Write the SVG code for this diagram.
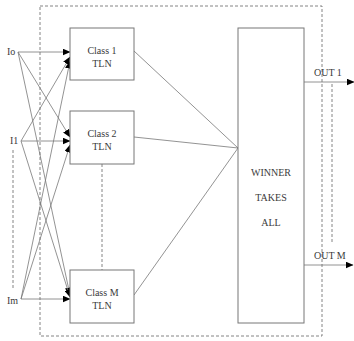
<svg xmlns="http://www.w3.org/2000/svg" width="354" height="341" viewBox="0 0 354 341">
<defs>
<marker id="ah" markerWidth="8" markerHeight="7" refX="7.5" refY="3.5" orient="auto" markerUnits="userSpaceOnUse">
<path d="M0,0 L8,3.5 L0,7 Z" fill="#000"/>
</marker>
</defs>
<style>
.box{fill:#fff;stroke:#777;stroke-width:1}
.ln{stroke:#777;stroke-width:0.8;fill:none}
.dash{stroke:#666;stroke-width:0.8;stroke-dasharray:3,2;fill:none}
.t{font-family:"Liberation Serif",serif;font-size:10px;fill:#3a3a3a;text-anchor:middle}
.lbl{font-family:"Liberation Serif",serif;font-size:10px;fill:#3a3a3a}
</style>
<rect width="354" height="341" fill="#fff"/>
<g id="frame">
<rect x="40" y="6" width="282" height="330" class="dash"/>
<line x1="13" y1="150" x2="13" y2="290" class="dash"/>
<line x1="102" y1="164" x2="102" y2="270" class="dash"/>
<line x1="332" y1="84" x2="332" y2="243" class="dash"/>
</g>
<g id="connectors">
<line x1="18" y1="52" x2="70" y2="52" class="ln" marker-end="url(#ah)"/>
<line x1="18" y1="52" x2="70" y2="137" class="ln" marker-end="url(#ah)"/>
<line x1="18" y1="52" x2="70" y2="295" class="ln" marker-end="url(#ah)"/>
<line x1="21" y1="141" x2="70" y2="57" class="ln" marker-end="url(#ah)"/>
<line x1="21" y1="141" x2="70" y2="141" class="ln" marker-end="url(#ah)"/>
<line x1="21" y1="141" x2="70" y2="297" class="ln" marker-end="url(#ah)"/>
<line x1="21" y1="299" x2="70" y2="61" class="ln" marker-end="url(#ah)"/>
<line x1="21" y1="299" x2="70" y2="145" class="ln" marker-end="url(#ah)"/>
<line x1="21" y1="299" x2="70" y2="299" class="ln" marker-end="url(#ah)"/>
<line x1="134" y1="51" x2="238" y2="148" class="ln"/>
<line x1="134" y1="137" x2="238" y2="148" class="ln"/>
<line x1="134" y1="295" x2="238" y2="148" class="ln"/>
<line x1="304" y1="82" x2="354" y2="82" class="ln" marker-end="url(#ah)"/>
<line x1="304" y1="265" x2="353" y2="265" class="ln" marker-end="url(#ah)"/>
</g>
<g id="inputs">
<text x="7" y="55" class="lbl">Io</text>
<text x="10" y="144" class="lbl">I1</text>
<text x="7" y="304" class="lbl">Im</text>
</g>
<g id="class1">
<rect x="70" y="28" width="64" height="52" class="box"/>
<text x="102" y="54" class="t">Class 1</text>
<text x="102" y="67" class="t">TLN</text>
</g>
<g id="class2">
<rect x="70" y="111" width="64" height="53" class="box"/>
<text x="102" y="137" class="t">Class 2</text>
<text x="102" y="150" class="t">TLN</text>
</g>
<g id="classM">
<rect x="70" y="270" width="64" height="53" class="box"/>
<text x="102" y="296" class="t">Class M</text>
<text x="102" y="309" class="t">TLN</text>
</g>
<g id="winner">
<rect x="238" y="28" width="66" height="295" class="box"/>
<text x="271" y="176" class="t">WINNER</text>
<text x="271" y="201" class="t">TAKES</text>
<text x="271" y="226" class="t">ALL</text>
</g>
<g id="outputs">
<text x="314" y="76" class="lbl">OUT 1</text>
<text x="314" y="259" class="lbl">OUT M</text>
</g>
</svg>
